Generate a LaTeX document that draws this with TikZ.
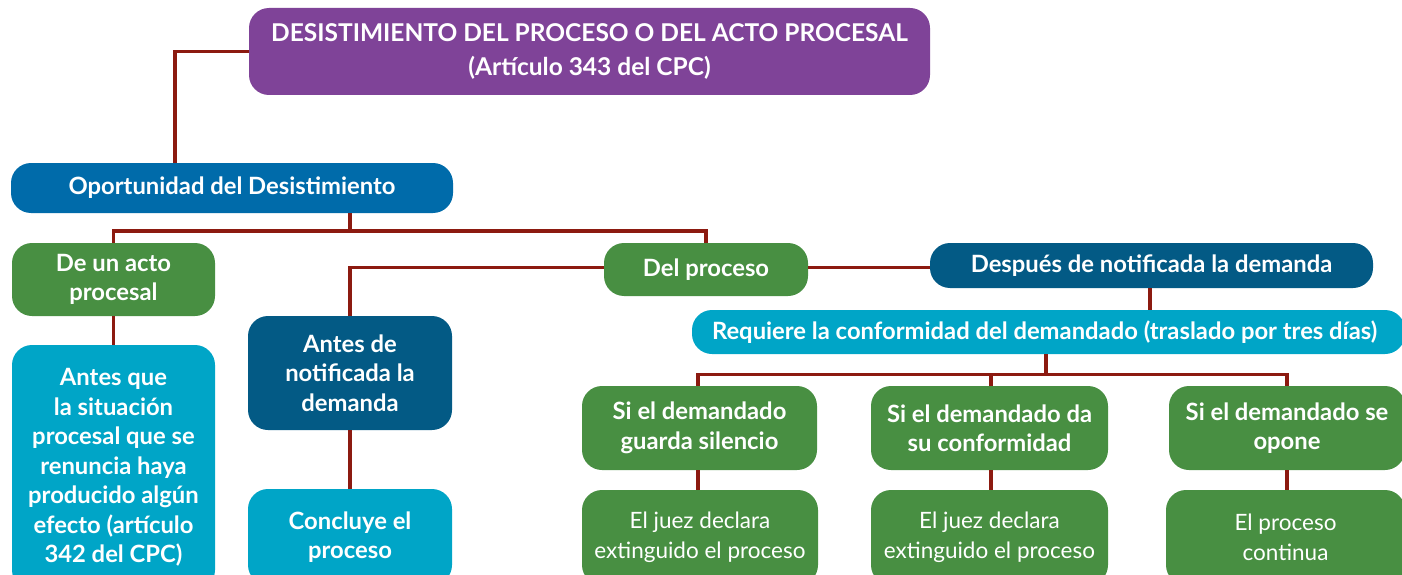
\documentclass[tikz,border=0pt]{standalone}
\usepackage{fontspec}
\setmainfont{Lato}
\definecolor{cpurple}{HTML}{7F4398}
\definecolor{cblue}{HTML}{006BAA}
\definecolor{cgreen}{HTML}{488F42}
\definecolor{ccyan}{HTML}{00A5C7}
\definecolor{cdark}{HTML}{035A85}
\definecolor{cline}{HTML}{8C1A10}
\tikzset{
  box/.style={draw=none, rounded corners=20pt, text=white, align=center, inner sep=0pt,
    font=\bfseries\fontsize{23.8}{29.5}\selectfont},
  lightbox/.style={box, font=\fontsize{22.5}{29.5}\selectfont},
  conn/.style={draw=cline, line width=3.2pt},
}
\begin{document}
\begin{tikzpicture}[x=1pt,y=-1pt]
\useasboundingbox (0,0) rectangle (1402,575);
\clip (0,0) rectangle (1402,575);
% nodes
\node[box, fill=cpurple, minimum width=681pt, minimum height=87pt, font=\bfseries\fontsize{24.5}{34}\selectfont] (title) at (589.5,51.5) {DESISTIMIENTO DEL PROCESO O DEL ACTO PROCESAL\\(Artículo 343 del CPC)};
\node[box, fill=cblue, minimum width=442pt, minimum height=50pt] (oport) at (232,188) {Oportunidad del Desistimiento};
\node[box, fill=cgreen, minimum width=203pt, minimum height=73pt] (acto) at (113.5,279.5) {De un acto\\procesal};
\node[box, fill=ccyan, minimum width=203pt, minimum height=245pt] (antesq) at (113.5,467.5) {Antes que\\la situación\\procesal que se\\renuncia haya\\producido algún\\efecto (artículo\\342 del CPC)};
\node[box, fill=cgreen, minimum width=204pt, minimum height=53pt] (delp) at (706,269.5) {Del proceso};
\node[box, fill=cdark, minimum width=204pt, minimum height=114pt] (antesde) at (350,373) {Antes de\\notificada la\\demanda};
\node[box, fill=ccyan, minimum width=204pt, minimum height=96pt] (concl) at (350,537) {Concluye el\\proceso};
\node[box, fill=cdark, minimum width=443pt, minimum height=45pt] (despues) at (1151.5,265.5) {Después de notificada la demanda};
\node[box, fill=ccyan, minimum width=713pt, minimum height=44pt] (requ) at (1048.5,332) {Requiere la conformidad del demandado (traslado por tres días)\hspace*{8pt}};
\node[box, fill=cgreen, minimum width=235pt, minimum height=84pt] (s1) at (699.5,428) {Si el demandado\\guarda silencio};
\node[box, fill=cgreen, minimum width=237pt, minimum height=84pt] (s2) at (989.5,428) {Si el demandado da\\su conformidad};
\node[box, fill=cgreen, minimum width=236pt, minimum height=84pt] (s3) at (1287,428) {Si el demandado se\\opone};
\node[lightbox, fill=cgreen, minimum width=236pt, minimum height=95pt] (e1) at (700,537.5) {El juez declara\\extinguido el proceso};
\node[lightbox, fill=cgreen, minimum width=237pt, minimum height=95pt] (e2) at (989.5,537.5) {El juez declara\\extinguido el proceso};
\node[lightbox, fill=cgreen, minimum width=239pt, minimum height=95pt] (e3) at (1285.5,537.5) {El proceso\\continua};
% connectors
\draw[conn] (title.west) -| ([xshift=-57pt]oport.north);
\draw[conn] (acto.north) |- (350,231) coordinate (j1) -| (delp.north);
\draw[conn] ([xshift=118pt]oport.south) -- (j1);
\draw[conn] (acto.south) -- (antesq.north);
\draw[conn] ([yshift=2pt]delp.west) -| (antesde.north);
\draw[conn] (antesde.south) -- (concl.north);
\draw[conn] ([yshift=2pt]delp.east) -- ([yshift=2pt]delp.east -| despues.west);
\draw[conn] ([xshift=-1.5pt]despues.south) -- ([xshift=-1.5pt]despues.south |- requ.north);
\draw[conn] ([xshift=-2.5pt]requ.south) -- ++(0,20) coordinate (j2);
\draw[conn] ([xshift=-1.5pt]s1.north) |- (j2) -| ([xshift=0pt]s3.north);
\draw[conn] (j2) -| ([xshift=1.5pt]s2.north);
\draw[conn] ([xshift=-1.5pt]s1.south) -- ([xshift=-1.5pt]s1.south |- e1.north);
\draw[conn] ([xshift=1.5pt]s2.south) -- ([xshift=1.5pt]s2.south |- e2.north);
\draw[conn] (s3.south) -- (s3.south |- e3.north);
\end{tikzpicture}
\end{document}
